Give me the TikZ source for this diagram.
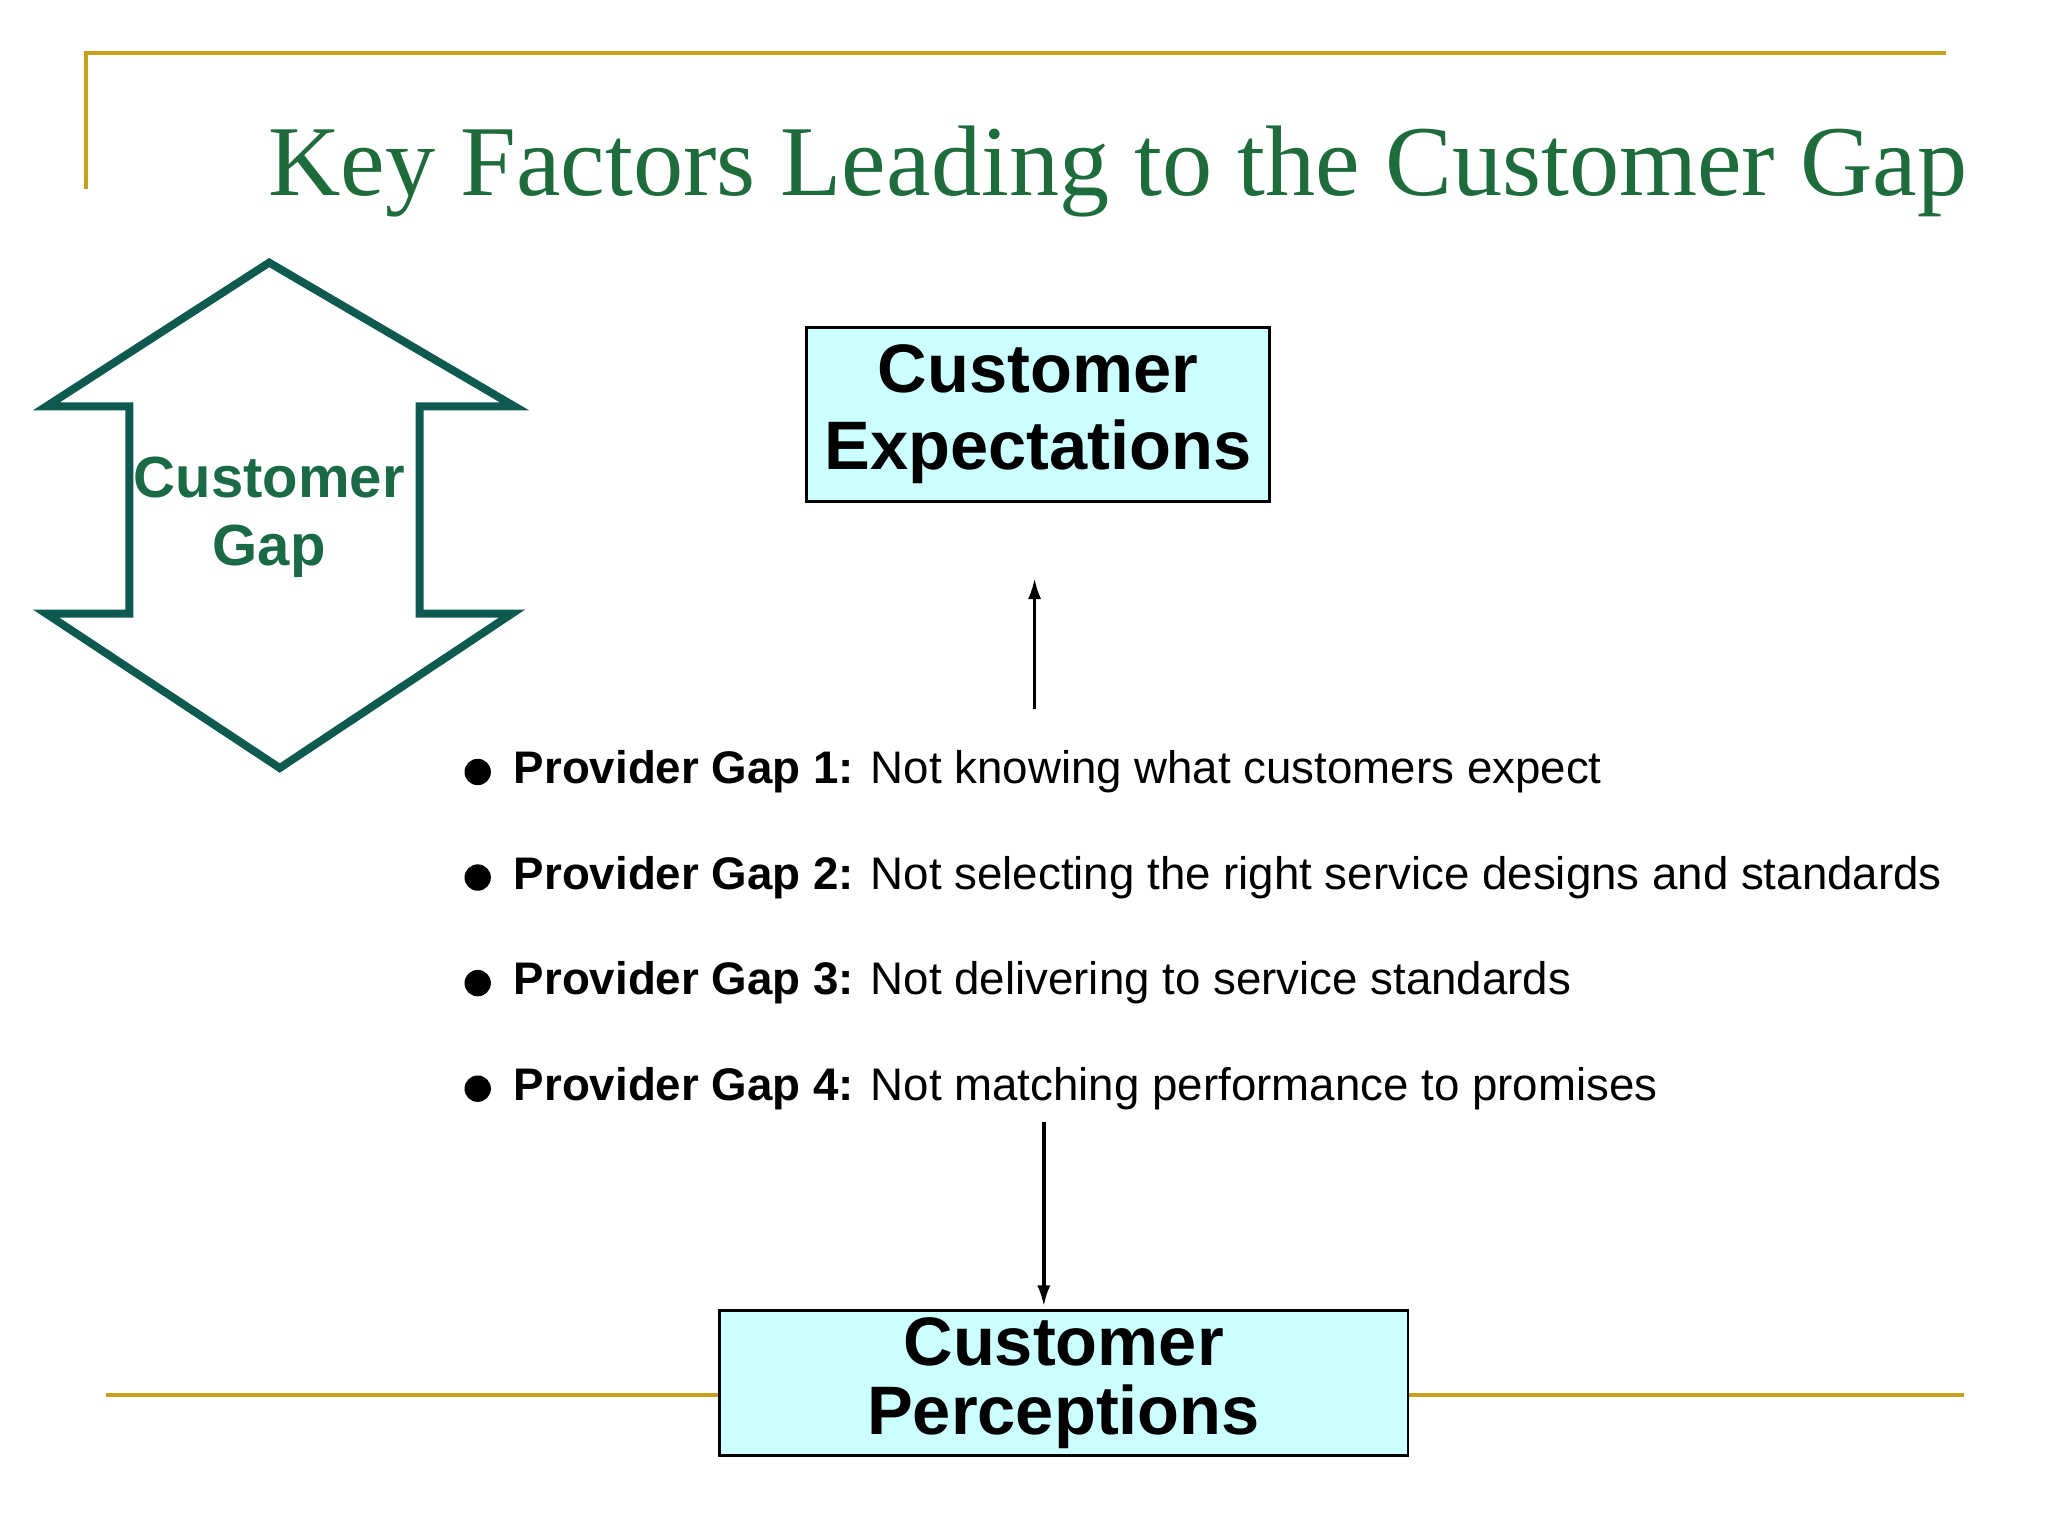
\documentclass[tikz,border=0pt]{standalone}
\usepackage{fontspec}
\usetikzlibrary{arrows.meta}
\setmainfont{Liberation Serif}
\setsansfont{Liberation Sans}
\definecolor{gold}{HTML}{C9A020}
\definecolor{titlegreen}{HTML}{1E6B3C}
\definecolor{teal}{HTML}{0E5A50}
\definecolor{gapgreen}{HTML}{1A6B45}
\definecolor{cyanfill}{HTML}{CCFFFF}
\begin{document}
\begin{tikzpicture}[x=0.5pt,y=-0.5pt,
  box/.style={draw=black,line width=1pt,fill=cyanfill,font=\sffamily\bfseries\fontsize{26}{29}\selectfont,align=center,inner sep=0},
  item/.style={anchor=west,font=\sffamily\fontsize{17.3}{19}\selectfont,inner sep=0},
  dot/.style={circle,fill=black,minimum size=10pt,inner sep=0},
  conn/.style={-{Latex[length=8pt,width=5pt]},line width=1.3pt}]
\useasboundingbox (0,0) rectangle (1552,1164);
\fill[white] (0,0) rectangle (1552,1164);
\draw[gold,line width=1.5pt] (65,143) -- (65,40) -- (1475,40);
\draw[gold,line width=1.5pt] (80,1057) -- (1488,1057);
\node[font=\fontsize{38}{42}\selectfont,text=titlegreen,inner sep=0] (title) at (847,130) {Key Factors Leading to the Customer Gap};
\draw[teal,line width=3pt,line join=miter] (204,199) -- (35,308) -- (98,308) -- (98,465) -- (35,465) -- (212,582) -- (388,465) -- (318,465) -- (318,308) -- (390,308) -- cycle;
\node[font=\sffamily\bfseries\fontsize{22}{26}\selectfont,text=gapgreen,align=center] (gap) at (204,392) {Customer\\Gap};
\node[box,minimum width=175.5pt,minimum height=66pt] (exp) at (786.5,314) {Customer\\Expectations};
\node[box,minimum width=261pt,minimum height=55pt,font=\sffamily\bfseries\fontsize{26}{26}\selectfont] (perc) at (806,1048) {Customer\\Perceptions};
\coordinate (upstart) at (784,537);
\coordinate (upend) at (784,438);
\draw[conn] (upstart) -- (upend);
\coordinate (dnstart) at (791,850);
\coordinate (dnend) at (791,990);
\draw[conn] (dnstart) -- (dnend);
\node[dot] (b1) at (362,585) {};
\node[dot] (b2) at (362,665) {};
\node[dot] (b3) at (362,745) {};
\node[dot] (b4) at (362,825) {};
\node[item] (t1) at (389,585) {\textbf{Provider Gap 1:} Not knowing what customers expect};
\node[item] (t2) at (389,665) {\textbf{Provider Gap 2:} Not selecting the right service designs and standards};
\node[item] (t3) at (389,745) {\textbf{Provider Gap 3:} Not delivering to service standards};
\node[item] (t4) at (389,825) {\textbf{Provider Gap 4:} Not matching performance to promises};
\end{tikzpicture}
\end{document}
